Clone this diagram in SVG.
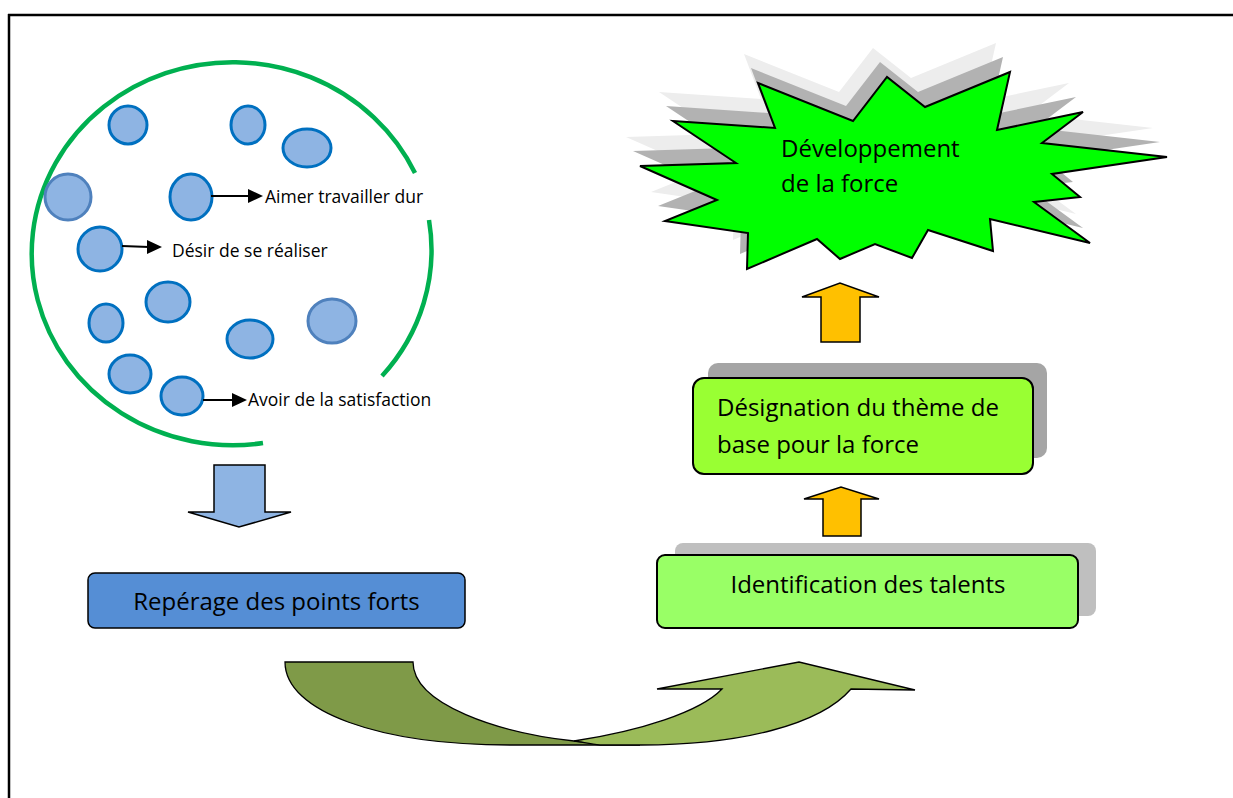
<svg xmlns="http://www.w3.org/2000/svg" width="1233" height="798" viewBox="0 0 1233 798">
<defs>
<style>
.t{font-family:"Open Sans","Liberation Sans",sans-serif;fill:#000}
.s{font-size:17.5px}
.b{font-size:24px}
.dot{fill:#8eb4e3;stroke:#0070c0;stroke-width:3}
.dotl{fill:#8eb4e3;stroke:#4f81bd;stroke-width:3}
.ln{stroke:#000;stroke-width:2;fill:none}
.ah{fill:#000}
.blk{stroke:#000;stroke-width:1.5}
</style>
<polygon id="star" points="758,83 853,121 887,77 925,107 1010,72 997,130 1083,112 1042,143 1167,157 1052,174 1080,197 1034,202 1090,243 990,219 993,251 928,230 912,258 875,244 840,259 817,239 747,269 748,233 665,221 717,200 640,166 736,163 673,121 775,128"/>
</defs>
<rect width="1233" height="798" fill="#fff"/>
<g id="frame">
<line x1="8" y1="15" x2="1233" y2="15" stroke="#000" stroke-width="2.5"/>
<line x1="9" y1="14" x2="9" y2="798" stroke="#000" stroke-width="2.5"/>
</g>
<g id="cluster">
<path d="M415,173 A201,191.5 0 1 0 263,443" fill="none" stroke="#00b050" stroke-width="4.5"/>
<path d="M429,220 A201,191.5 0 0 1 382,376" fill="none" stroke="#00b050" stroke-width="4.5"/>
<ellipse class="dot" cx="128" cy="125" rx="19" ry="19"/>
<ellipse class="dot" cx="248" cy="125" rx="17" ry="19"/>
<ellipse class="dot" cx="307" cy="148" rx="24" ry="19"/>
<ellipse class="dotl" cx="68" cy="197" rx="23" ry="23"/>
<ellipse class="dot" cx="191" cy="197" rx="21" ry="23"/>
<ellipse class="dot" cx="100" cy="249" rx="22" ry="22"/>
<ellipse class="dot" cx="168" cy="302" rx="22" ry="20"/>
<ellipse class="dot" cx="106" cy="323" rx="17" ry="19"/>
<ellipse class="dot" cx="250" cy="339" rx="23" ry="19"/>
<ellipse class="dotl" cx="332" cy="321" rx="24" ry="22"/>
<ellipse class="dot" cx="130" cy="374" rx="21" ry="19"/>
<ellipse class="dot" cx="182" cy="396" rx="21" ry="19"/>
</g>
<g id="labels">
<line class="ln" x1="211" y1="196" x2="250" y2="196"/>
<polygon class="ah" points="248,189 263,196 248,203"/>
<text class="t s" x="265" y="203">Aimer travailler dur</text>
<line class="ln" x1="122" y1="246" x2="149" y2="247"/>
<polygon class="ah" points="147,240 162,247 147,254"/>
<text class="t s" x="172" y="257">Désir de se réaliser</text>
<line class="ln" x1="203" y1="400" x2="234" y2="400"/>
<polygon class="ah" points="232,393 247,400 232,407"/>
<text class="t s" x="248" y="406">Avoir de la satisfaction</text>
</g>
<g id="connectors">
<polygon class="blk" fill="#8eb4e3" points="214,465 265,465 265,512 291,512 239,527 188,512 214,512" stroke-width="1.2"/>
<polygon class="blk" fill="#ffc000" points="821,342 860,342 860,297 879,297 840,283 802,297 821,297" stroke-width="1.5"/>
<polygon class="blk" fill="#ffc000" points="823,536 861,536 861,499 879,499 841,487 804,499 823,499" stroke-width="1.5"/>
<path fill="#7f9a48" stroke="#000" stroke-width="1.3" d="M285,662 L413,662 C413,705 500,733 574,741 C600,744 620,745 640,745 L510,745 C380,745 285,712 285,662 Z"/>
<path fill="#9bbb59" stroke="#000" stroke-width="1.3" d="M574,741 C640,731 700,712 722,689 L657,689 L799,662 L915,690 L851,689 C820,725 740,745 641,745 L600,745 C590,744 582,742 574,741 Z"/>
</g>
<g id="node-development">
<use href="#star" transform="translate(-14,-29)" fill="#ededed"/>
<use href="#star" transform="translate(-7,-15)" fill="#b2b2b2"/>
<use href="#star" fill="#00ff00" stroke="#000" stroke-width="2"/>
<text class="t b" x="781" y="157">Développement</text>
<text class="t b" x="781" y="192">de la force</text>
</g>
<g id="node-reperage">
<rect x="88" y="573" width="377" height="55" rx="7" fill="#558ed5" stroke="#000" stroke-width="1.5"/>
<text class="t b" x="276.5" y="610" text-anchor="middle">Repérage des points forts</text>
</g>
<g id="node-designation">
<rect x="708" y="363" width="339" height="95" rx="10" fill="#a5a5a5"/>
<rect x="693" y="378" width="340" height="96" rx="11" fill="#99ff33" stroke="#000" stroke-width="2"/>
<text class="t b" x="717" y="416">Désignation du thème de</text>
<text class="t b" x="717" y="453">base pour la force</text>
</g>
<g id="node-identification">
<rect x="675" y="543" width="421" height="73" rx="8" fill="#bfbfbf"/>
<rect x="657" y="555" width="421" height="73" rx="8" fill="#99ff66" stroke="#000" stroke-width="2"/>
<text class="t b" x="868" y="593" text-anchor="middle">Identification des talents</text>
</g>
</svg>
